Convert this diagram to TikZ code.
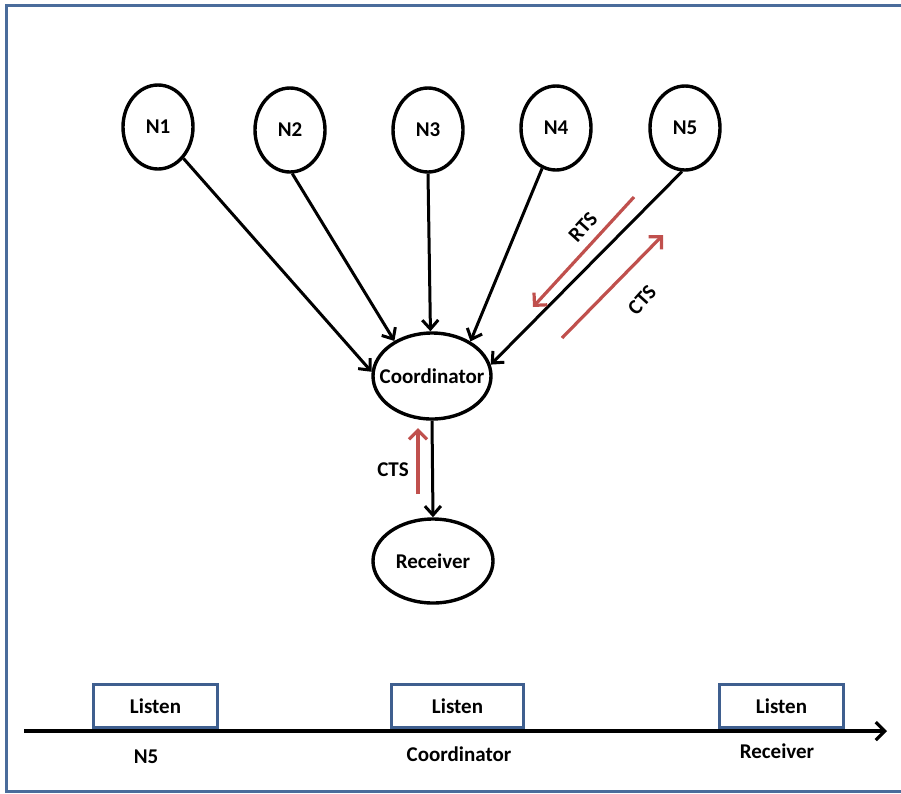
\documentclass[tikz,border=0pt]{standalone}
\usepackage{fontspec}
\setmainfont{Carlito}
\usetikzlibrary{shapes.geometric,arrows.meta}
\definecolor{frameblue}{HTML}{4A6C9B}
\definecolor{boxblue}{HTML}{3F5F8F}
\definecolor{msgred}{HTML}{C0504D}
\tikzset{
  station/.style={ellipse,draw,line width=3.4pt,inner sep=0pt,font=\bfseries\fontsize{21}{21}\selectfont},
  link/.style={line width=3pt,-{Straight Barb[length=9pt,width=16pt,line width=3pt]}},
  msg/.style={msgred,line width=3.2pt,-{Straight Barb[length=9pt,width=18pt,line width=3.2pt]}},
  lbl/.style={font=\bfseries\fontsize{21}{21}\selectfont},
  slot/.style={draw=boxblue,line width=3pt,minimum width=124pt,minimum height=43pt,inner sep=0pt,anchor=south west,font=\bfseries\fontsize{21}{21}\selectfont}
}
\begin{document}
\begin{tikzpicture}[x=1pt,y=-1pt]
\useasboundingbox (0,0) rectangle (901,793);
% outer frame
\draw[frameblue,line width=3pt] (905,5) -- (6,5) -- (6,791) -- (905,791);

% stations
\node[station,minimum width=70pt,minimum height=84pt] (n1) at (158,127) {N1};
\node[station,minimum width=70pt,minimum height=84pt] (n2) at (290,130) {N2};
\node[station,minimum width=70pt,minimum height=84pt] (n3) at (428,130) {N3};
\node[station,minimum width=70pt,minimum height=84pt] (n4) at (556,128) {N4};
\node[station,minimum width=70pt,minimum height=84pt] (n5) at (685,128) {N5};
\node[station,minimum width=118pt,minimum height=86pt] (coord) at (432,376) {\makebox[0pt]{Coordinator}};
\node[station,minimum width=120pt,minimum height=84pt] (recv) at (433,561) {\makebox[0pt]{Receiver}};

% links to the coordinator
\draw[link] (n1.-51) -- (coord.176);
\draw[link] (n2.-87) -- (coord.137);
\draw[link] (n3.-90) -- (coord.92);
\draw[link] (n4.-109) -- (coord.42);
\draw[link] (n5.-94) -- (coord.11);
\draw[link] (coord.south) -- (recv.north);

% handshake messages
\coordinate (rtsA) at (634,197);
\coordinate (rtsB) at (533,307);
\coordinate (ctsA) at (562,338);
\coordinate (ctsB) at (663,235);
\coordinate (ctrA) at (418,494);
\coordinate (ctrB) at (418,428);
\draw[msg] (rtsA) -- (rtsB);
\draw[msg] (ctsA) -- (ctsB);
\draw[msg] (ctrA) -- (ctrB);
\node[lbl,rotate=48] (rtsL) at (583,227) {RTS};
\node[lbl,rotate=48] (ctsL) at (642,300) {CTS};
\node[lbl] (ctrL) at (393,470) {CTS};

% timeline
\coordinate (tStart) at (24,731);
\coordinate (tEnd) at (887,731);
\draw[line width=3.8pt,-{Straight Barb[length=9pt,width=18pt,line width=3.2pt]}] (tStart) -- (tEnd);
\node[slot] (s1) at (92,729) {Listen};
\node[slot,minimum width=132pt] (s2) at (390,729) {Listen};
\node[slot] (s3) at (718,729) {Listen};
\node[lbl] (t1) at (146,757) {N5};
\node[lbl] (t2) at (459,754) {Coordinator};
\node[lbl] (t3) at (777,751) {Receiver};
\end{tikzpicture}
\end{document}
